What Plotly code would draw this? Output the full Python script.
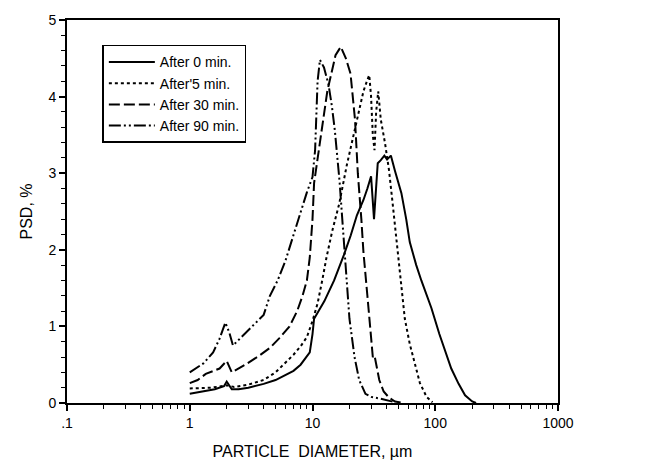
import plotly.graph_objects as go

# ---- data (particle diameter in um, PSD in %) ----
d0 = [1, 1.3, 1.6, 1.9, 2.0, 2.2, 2.5, 3, 4, 5, 6, 7, 8, 9, 9.5, 10, 10.3, 12.5, 15, 18,
      20.5, 23, 26, 28, 30, 31.7, 34, 36, 38.5, 40.5, 43.5, 47, 53, 58, 62, 70, 77, 93,
      108, 135, 155, 175, 200, 215]
y0 = [0.12, 0.15, 0.18, 0.22, 0.28, 0.18, 0.18, 0.2, 0.25, 0.3, 0.36, 0.42, 0.5, 0.6, 0.66,
      0.9, 1.1, 1.33, 1.6, 1.93, 2.19, 2.45, 2.65, 2.8, 2.96, 2.4, 3.13, 3.17, 3.23, 3.18,
      3.23, 3.03, 2.74, 2.4, 2.1, 1.8, 1.6, 1.24, 0.9, 0.45, 0.25, 0.1, 0.02, 0.0]

d5 = [1, 1.5, 2, 2.3, 3, 4, 5, 6, 7, 8, 9, 10, 11, 12, 13, 14.5, 16.5, 19, 21.5, 24, 26,
      28, 29, 30, 31, 32, 33, 34.3, 36, 39, 42, 45, 50, 53, 56.5, 62, 69, 75, 85, 95]
y5 = [0.19, 0.2, 0.23, 0.21, 0.24, 0.3, 0.4, 0.52, 0.63, 0.74, 0.86, 1.07, 1.3, 1.6, 1.9,
      2.25, 2.6, 3.1, 3.5, 3.85, 4.07, 4.22, 4.28, 4.0, 3.5, 3.3, 3.8, 4.07, 3.7, 3.39,
      3.04, 2.6, 1.9, 1.55, 1.1, 0.77, 0.47, 0.26, 0.08, 0.01]

d30 = [1, 1.16, 1.35, 1.75, 2.0, 2.2, 2.9, 3.7, 4.5, 5.4, 6.5, 7.5, 8.3, 9, 9.5, 10, 10.3,
       11.3, 13.2, 15.4, 17, 18.7, 20.4, 22.2, 23.4, 25, 26, 28, 30, 31, 32, 33, 35, 38,
       42, 47, 55]
y30 = [0.26, 0.3, 0.38, 0.45, 0.55, 0.4, 0.51, 0.62, 0.72, 0.85, 1.0, 1.2, 1.4, 1.6, 1.9,
       2.4, 2.87, 3.3, 4.07, 4.54, 4.65, 4.5, 4.3, 3.7, 3.0, 2.4, 1.97, 1.4, 0.9, 0.6, 0.62,
       0.5, 0.3, 0.15, 0.07, 0.02, 0.0]

d90 = [1, 1.3, 1.55, 1.75, 1.95, 2.1, 2.25, 2.8, 3.5, 4.0, 4.5, 5.2, 6, 7, 8, 9, 10, 10.5,
       11, 11.5, 12.4, 13.5, 14.4, 15.2, 16.6, 18, 19, 20, 22, 24, 27, 30, 35, 40, 47]
y90 = [0.4, 0.52, 0.66, 0.84, 1.05, 0.92, 0.75, 0.9, 1.05, 1.15, 1.4, 1.6, 1.85, 2.2, 2.5,
       2.75, 2.95, 3.3, 4.2, 4.48, 4.38, 4.16, 3.87, 3.56, 2.9, 2.1, 1.5, 1.1, 0.6, 0.3,
       0.12, 0.08, 0.06, 0.04, 0.01]

names = ["After 0 min.", "After'5 min.", "After 30 min.", "After 90 min."]
x_tickvals = [0.1, 1, 10, 100, 1000]
x_ticktext = [".1", "1", "10", "100", "1000"]
y_tickvals = [0, 1, 2, 3, 4, 5]

FONT = "Liberation Sans, Arial, sans-serif"

fig = go.Figure()
styles = [
    dict(color="black", width=2, dash="solid"),
    dict(color="black", width=2, dash="dot"),
    dict(color="black", width=2, dash="11px,4px"),
    dict(color="black", width=2, dash="12px,3px,2px,3px,2px,3px"),
]
for d, y, n, s in zip([d0, d5, d30, d90], [y0, y5, y30, y90], names, styles):
    fig.add_trace(go.Scatter(x=d, y=y, mode="lines", name=n, line=s))

fig.update_layout(
    width=650, height=471,
    margin=dict(l=67, r=92, t=15, b=68),
    paper_bgcolor="white", plot_bgcolor="white",
    font=dict(family=FONT, size=14, color="black"),
    showlegend=True,
    legend=dict(
        x=0.072, y=0.935, xanchor="left", yanchor="top",
        bgcolor="white", bordercolor="black", borderwidth=1.5,
        font=dict(family=FONT, size=14, color="black"),
        tracegroupgap=0, itemwidth=46,
    ),
    xaxis=dict(
        type="log", range=[-1, 3],
        tickvals=x_tickvals, ticktext=x_ticktext,
        ticks="outside", ticklen=6, tickwidth=1.5, tickcolor="black",
        minor=dict(ticks="outside", ticklen=4, tickwidth=1, tickcolor="black",
                   dtick="D1", showgrid=False),
        showline=True, linecolor="black", linewidth=2, mirror=True,
        showgrid=False, zeroline=False,
        tickfont=dict(family=FONT, size=14, color="black"),
        title=dict(text="PARTICLE  DIAMETER, µm", font=dict(family=FONT, size=16), standoff=16),
    ),
    yaxis=dict(
        range=[0, 5], tickvals=y_tickvals,
        ticks="outside", ticklen=6, tickwidth=1.5, tickcolor="black",
        minor=dict(ticks="outside", ticklen=4, tickwidth=1, tickcolor="black",
                   dtick=0.2, showgrid=False),
        showline=True, linecolor="black", linewidth=2, mirror=True,
        showgrid=False, zeroline=False,
        tickfont=dict(family=FONT, size=14, color="black"),
        title=dict(text="PSD, %", font=dict(family=FONT, size=16), standoff=12),
    ),
)

fig.write_html("out.html")
